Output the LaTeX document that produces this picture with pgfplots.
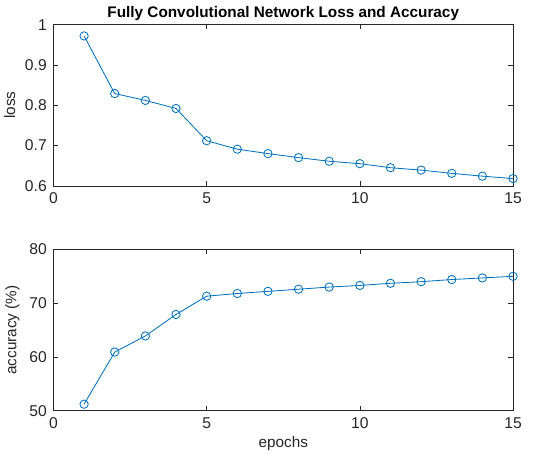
\documentclass[border=0pt]{standalone}
\usepackage{pgfplots}
\pgfplotsset{compat=1.18}
\usepackage{fontspec}
\setmainfont{Liberation Sans}
\definecolor{mblue}{RGB}{0,114,189}
\definecolor{axgray}{RGB}{38,38,38}

\pgfplotsset{
  mat/.style={
    scale only axis,
    width=276pt, height=96.8pt,
    xmin=0, xmax=15,
    xtick={0,5,10,15},
    tick align=inside,
    major tick length=2.8pt,
    axis line style={axgray, line width=0.4pt},
    every tick/.style={axgray, line width=0.4pt},
    tick label style={font=\fontsize{9.4}{11}\selectfont, text=axgray},
    label style={font=\fontsize{9.2}{11}\selectfont, text=axgray},
    /pgf/number format/assume math mode=true,
    xticklabel style={yshift=-0.5pt},
    yticklabel style={xshift=-0.5pt},
    clip=false,
  },
  dat/.style={mblue, line width=0.5pt, mark=o, mark size=2.5pt,
    mark options={line width=0.5pt}},
}

\begin{document}
\begin{tikzpicture}
\path[use as bounding box] (-32.1pt,-30.2pt) rectangle (300.6pt,246.6pt);

% loss
\begin{axis}[mat,
  at={(0pt,135pt)}, anchor=south west,
  ymin=0.6, ymax=1,
  ytick={0.6,0.7,0.8,0.9,1},
  yticklabels={0.6,0.7,0.8,0.9,1},
  ylabel={loss},
  ylabel style={yshift=-1pt},
  title={Fully Convolutional Network Loss and Accuracy},
  title style={font=\fontsize{9.2}{11}\selectfont\bfseries, yshift=-7pt},
]
\addplot[dat] coordinates {
(1,0.972) (2,0.829) (3,0.812) (4,0.792) (5,0.712)
(6,0.691) (7,0.680) (8,0.670) (9,0.661) (10,0.655)
(11,0.645) (12,0.639) (13,0.631) (14,0.624) (15,0.618)
};
\end{axis}

% accuracy
\begin{axis}[mat,
  at={(0pt,0pt)}, anchor=south west,
  ymin=50, ymax=80,
  ytick={50,60,70,80},
  ylabel={accuracy (\%)},
  ylabel style={yshift=-1pt},
  xlabel={epochs},
  xlabel style={yshift=2pt},
]
\addplot[dat] coordinates {
(1,51.2) (2,60.9) (3,63.9) (4,67.9) (5,71.3)
(6,71.8) (7,72.2) (8,72.6) (9,73.0) (10,73.3)
(11,73.7) (12,74.0) (13,74.4) (14,74.7) (15,75.0)
};
\end{axis}
\end{tikzpicture}
\end{document}
